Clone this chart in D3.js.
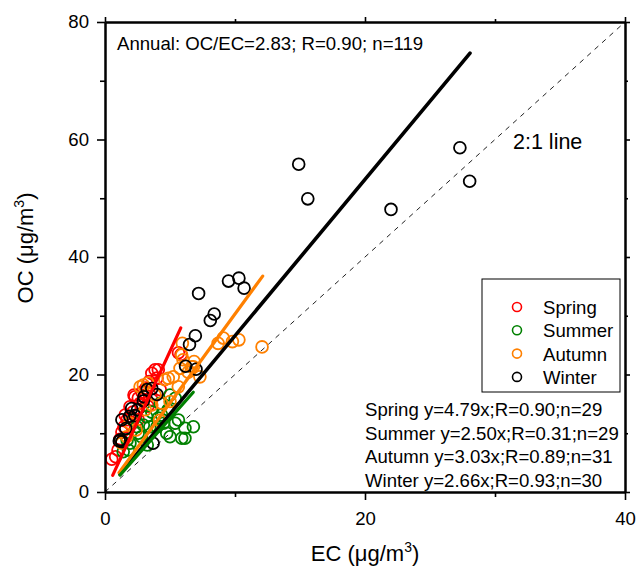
<!DOCTYPE html>
<html><head><meta charset="utf-8">
<script src="https://cdnjs.cloudflare.com/ajax/libs/d3/7.8.5/d3.min.js"></script>
<style>
html,body{margin:0;padding:0;background:#fff;}
text{font-family:"Liberation Sans",Arial,Helvetica,sans-serif;}
</style></head>
<body>
<svg id="chart" width="636" height="568"></svg>
<script>
// ---- data (EC, OC in µg/m3) ----
const seasons = ["Spring", "Summer", "Autumn", "Winter"];
const colors = ["#ff0000", "#008000", "#ff8000", "#000000"];
const slopes = [4.79, 2.50, 3.03, 2.66];
const fitRanges = [[0.59, 5.83], [1.15, 6.79], [1.08, 12.13], [1.15, 28.08]];
const fitLabels = [
  "Spring y=4.79x;R=0.90;n=29",
  "Summer y=2.50x;R=0.31;n=29",
  "Autumn y=3.03x;R=0.89;n=31",
  "Winter y=2.66x;R=0.93;n=30"
];
const annualLabel = "Annual: OC/EC=2.83; R=0.90; n=119";
const xTicks = [0, 20, 40];
const xMinorTicks = [10, 30];
const yTicks = [0, 20, 40, 60, 80];
const yMinorTicks = [10, 30, 50, 70];

const spring = [
  [0.52,5.57],[0.82,6.0],[1.0,7.15],[1.15,8.97],[1.46,11.1],[1.3,10.2],[1.97,12.8],[1.7,12.3],
  [1.92,14.5],[2.23,16.5],[2.56,16.0],[2.3,16.2],[2.85,17.0],[2.7,15.1],[3.15,17.7],[3.4,18.8],
  [3.6,20.2],[3.85,20.8],[4.0,19.4],[4.1,20.8],[3.1,16.5],[3.6,15.7],[5.65,23.7],[5.85,23.4],
  [1.55,13.1],[2.15,13.6],[3.3,14.6],[4.25,17.4],[2.55,12.3]
];
const summer = [
  [6.15,10.85],[6.8,11.1],[6.15,9.15],[5.4,11.7],[5.65,12.25],[4.75,10.0],[4.5,11.7],[4.0,11.1],
  [4.35,13.1],[5.0,16.5],[5.4,15.95],[4.25,15.1],[3.2,12.8],[3.45,11.1],[2.45,11.1],[2.8,9.4],
  [5.0,9.4],[5.9,9.15],[1.92,8.3],[1.4,6.85],[1.8,7.15],[2.55,10.0],[2.95,11.4],[3.6,13.6],
  [2.15,12.25],[4.1,12.6],[4.85,14.0],[1.7,8.85],[3.25,8.0]
];
const autumn = [
  [12.08,24.7],[8.7,25.3],[9.1,26.2],[9.8,25.6],[10.3,25.9],[7.3,19.6],[5.95,25.3],[6.0,22.5],
  [5.77,21.05],[6.67,21.3],[6.85,22.2],[5.25,19.6],[4.87,19.35],[5.64,17.9],[2.7,17.9],[2.95,18.2],
  [5.0,15.4],[4.36,15.1],[3.1,14.0],[1.92,11.7],[1.67,9.4],[1.28,8.3],[4.6,19.1],[5.9,23.3],
  [6.8,21.3],[3.85,16.5],[3.6,14.8],[2.4,10.55],[4.2,12.2],[3.3,18.55],[6.4,20.4]
];
const winter = [
  [14.9,55.8],[15.6,49.9],[22.0,48.1],[27.3,58.6],[28.05,52.9],
  [7.2,33.8],[9.5,35.9],[10.3,36.4],[10.7,34.7],[8.4,30.3],[8.1,29.2],[6.95,26.6],[6.5,25.1],[6.2,21.4],[7.0,20.9],
  [3.6,17.6],[3.25,17.45],[2.95,15.5],[2.05,14.2],[1.3,12.3],[1.9,12.9],[1.1,8.7],[1.3,8.55],[1.2,8.9],
  [3.7,8.3],[1.6,10.8],[2.5,14.0],[3.0,16.2],[4.0,16.6],[2.3,13.0]
];
const seriesData = [spring, summer, autumn, winter];

// ---- layout ----
const svg = d3.select("#chart");
const L = 105, R = 625, T = 22, B = 492;
const x = d3.scaleLinear().domain([0, 40]).range([L, R]);
const y = d3.scaleLinear().domain([0, 80]).range([B, T]);
const FS = 18.6;

// 2:1 line
svg.append("line")
  .attr("x1", x(0)).attr("y1", y(0)).attr("x2", x(40)).attr("y2", y(80))
  .attr("stroke", "#222").attr("stroke-width", 1).attr("stroke-dasharray", "5,5");
svg.append("text").attr("x", 513).attr("y", 149).attr("font-size", 21.5).text("2:1 line");

// scatter points
seriesData.forEach((data, i) => {
  svg.append("g").selectAll("circle").data(data).join("circle")
    .attr("cx", d => x(d[0])).attr("cy", d => y(d[1])).attr("r", 5.9)
    .attr("fill", "none").attr("stroke", colors[i]).attr("stroke-width", 1.8);
});

// fit lines (through origin)
[3, 2, 1, 0].forEach(i => {
  const [a, b] = fitRanges[i];
  svg.append("line")
    .attr("x1", x(a)).attr("y1", y(slopes[i] * a))
    .attr("x2", x(b)).attr("y2", y(slopes[i] * b))
    .attr("stroke", colors[i]).attr("stroke-width", i === 3 ? 3.6 : 3.2).attr("stroke-linecap", "round");
});

// axes
function styleAxis(g) {
  g.select(".domain").attr("stroke-width", 2).attr("stroke", "#000");
  g.selectAll(".tick line").attr("stroke-width", 1.6).attr("stroke", "#000");
  g.selectAll("text").attr("font-size", FS).attr("fill", "#000")
    .attr("font-family", '"Liberation Sans",Arial,sans-serif');
}
svg.append("g").attr("transform", `translate(0,${B})`)
  .call(d3.axisBottom(x).tickValues(xTicks).tickSize(8).tickPadding(12).tickSizeOuter(0))
  .call(styleAxis);
svg.append("g").attr("transform", `translate(0,${B})`)
  .call(d3.axisBottom(x).tickValues(xMinorTicks).tickSize(5).tickFormat("").tickSizeOuter(0))
  .call(styleAxis);
svg.append("g").attr("transform", `translate(${L},0)`)
  .call(d3.axisLeft(y).tickValues(yTicks).tickSize(8).tickPadding(8).tickSizeOuter(0))
  .call(styleAxis);
svg.append("g").attr("transform", `translate(${L},0)`)
  .call(d3.axisLeft(y).tickValues(yMinorTicks).tickSize(5).tickFormat("").tickSizeOuter(0))
  .call(styleAxis);
svg.append("g").attr("transform", `translate(0,${T})`)
  .call(d3.axisTop(x).tickValues(xTicks).tickSize(5).tickFormat("").tickSizeOuter(0))
  .call(styleAxis);
svg.append("g").attr("transform", `translate(0,${T})`)
  .call(d3.axisTop(x).tickValues(xMinorTicks).tickSize(3).tickFormat("").tickSizeOuter(0))
  .call(styleAxis);
svg.append("g").attr("transform", `translate(${R},0)`)
  .call(d3.axisRight(y).tickValues(yTicks).tickSize(5).tickFormat("").tickSizeOuter(0))
  .call(styleAxis);
svg.append("g").attr("transform", `translate(${R},0)`)
  .call(d3.axisRight(y).tickValues(yMinorTicks).tickSize(3).tickFormat("").tickSizeOuter(0))
  .call(styleAxis);

// axis titles
const xt = svg.append("text").attr("x", 365).attr("y", 561).attr("text-anchor", "middle").attr("font-size", 22);
xt.append("tspan").text("EC (");
xt.append("tspan").text("μ");
xt.append("tspan").text("g/m");
xt.append("tspan").attr("font-size", 14).attr("dy", -9).text("3");
xt.append("tspan").attr("dy", 9).text(")");

const yt = svg.append("text").attr("transform", "translate(33,248) rotate(-90)")
  .attr("text-anchor", "middle").attr("font-size", 22);
yt.append("tspan").text("OC (");
yt.append("tspan").text("μ");
yt.append("tspan").text("g/m");
yt.append("tspan").attr("font-size", 14).attr("dy", -9).text("3");
yt.append("tspan").attr("dy", 9).text(")");

// annual text
svg.append("text").attr("x", 117).attr("y", 50).attr("font-size", FS).text(annualLabel);

// legend
svg.append("rect").attr("x", 482).attr("y", 279).attr("width", 138).attr("height", 113)
  .attr("fill", "#fff").attr("stroke", "#000").attr("stroke-width", 1);
seasons.forEach((s, i) => {
  const cy = 307 + i * 23.3;
  svg.append("circle").attr("cx", 517).attr("cy", cy).attr("r", 4.5)
    .attr("fill", "none").attr("stroke", colors[i]).attr("stroke-width", 1.6);
  svg.append("text").attr("x", 543).attr("y", cy + 7).attr("font-size", FS).text(s);
});

// fit equations
fitLabels.forEach((t, i) => {
  svg.append("text").attr("x", 365).attr("y", 416 + i * 23.5).attr("font-size", FS).text(t);
});
</script>
</body></html>
